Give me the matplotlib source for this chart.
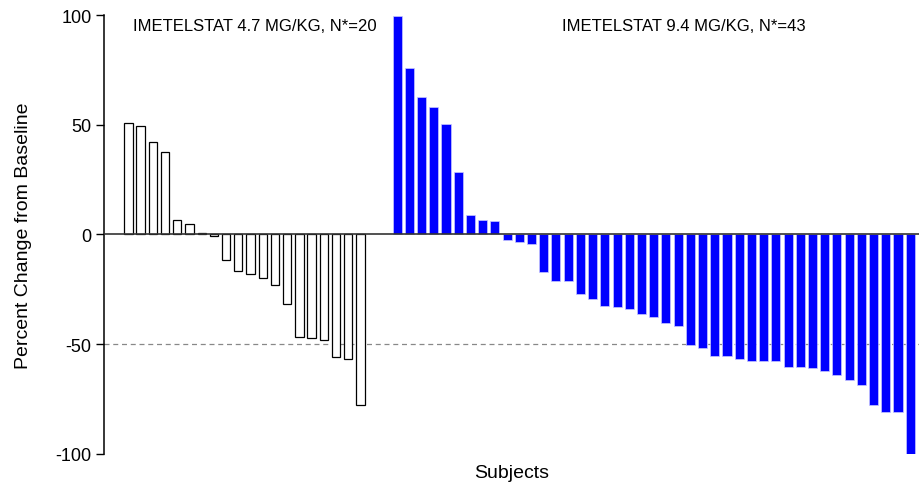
import numpy as np
import matplotlib.pyplot as plt

plt.rcParams['font.family'] = ['Liberation Sans', 'DejaVu Sans']

# percent change from baseline, sorted per dose group
low_dose = [50.6, 49.4, 42.0, 37.5, 6.8, 4.9, 0.5, -0.8, -11.8, -16.5,
            -18.0, -19.9, -22.9, -31.6, -46.9, -47.2, -48.1, -55.7, -56.8, -77.7]
high_dose = [99.5, 75.8, 62.6, 58.0, 50.3, 28.6, 8.8, 6.7, 6.2, -2.7,
             -3.5, -4.3, -16.9, -21.4, -21.4, -27.2, -29.6, -32.8, -32.9, -33.9,
             -36.1, -37.7, -40.5, -41.5, -50.3, -51.8, -55.4, -55.6, -56.8, -57.6,
             -57.6, -57.6, -60.4, -60.5, -60.9, -62.1, -64.2, -66.5, -68.5, -77.7,
             -80.8, -80.9, -100.0]
low_label = "IMETELSTAT 4.7 MG/KG, N*=20"
high_label = "IMETELSTAT 9.4 MG/KG, N*=43"
yticks = [-100, -50, 0, 50, 100]

fig = plt.figure(figsize=(9.2, 4.85), dpi=100)
ax = fig.add_axes([0.113, 0.062, 0.887, 0.905])

x_low = np.arange(len(low_dose))
x_high = np.arange(len(high_dose)) + len(low_dose) + 2

ax.bar(x_low, low_dose, width=0.68, color='white', edgecolor='black', linewidth=0.9, zorder=3)
ax.bar(x_high, high_dose, width=0.74, color='#0000ff', edgecolor='#c8c8ff', linewidth=0.5, zorder=3)

ax.axhline(0, color='#333333', linewidth=1.2, zorder=4)
ax.axhline(-50, color='#888888', linewidth=0.9, linestyle=(0, (4, 3)), zorder=1)

ax.set_xlim(-2.0, 64.8)
ax.set_ylim(-100, 100)
ax.set_yticks(yticks)
ax.set_yticklabels([str(t) for t in yticks], fontsize=13)
ax.set_xticks([])
ax.tick_params(axis='y', direction='out', length=6, width=1, pad=3)

for s in ['top', 'right', 'bottom']:
    ax.spines[s].set_visible(False)
ax.spines['left'].set_linewidth(1.1)

ax.set_ylabel("Percent Change from Baseline", fontsize=14, labelpad=17)
ax.set_xlabel("Subjects", fontsize=14, labelpad=7)

ax.text(10.34, 95.0, low_label, ha='center', va='center', fontsize=12)
ax.text(45.5, 95.0, high_label, ha='center', va='center', fontsize=12)

fig.savefig("out.png", dpi=100)
